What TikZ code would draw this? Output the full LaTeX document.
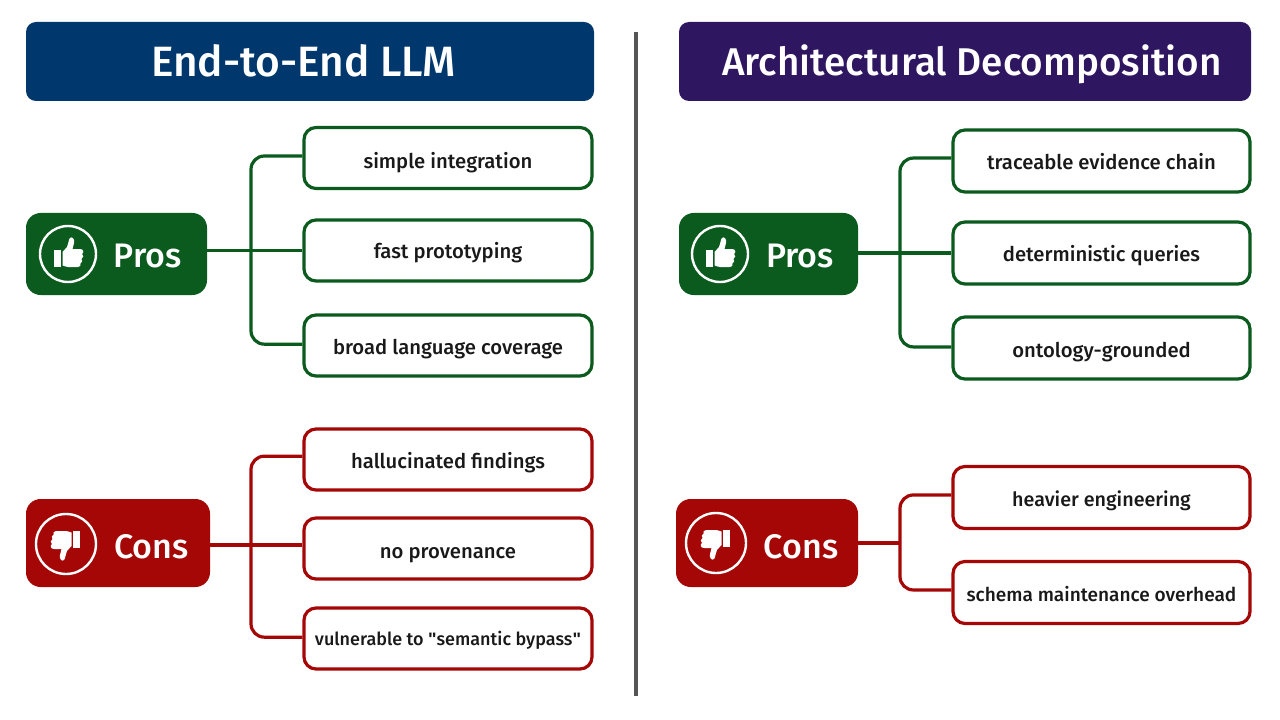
\documentclass[tikz,border=0pt]{standalone}
\usepackage{fontspec}
\setmainfont{Fira Sans}[BoldFont={Fira Sans Medium}]
\newfontfamily\quotefont{Liberation Sans}
\definecolor{titleblue}{HTML}{00386E}
\definecolor{titlepurple}{HTML}{2E1660}
\definecolor{prosgreen}{HTML}{0B5A1E}
\definecolor{consred}{HTML}{A50606}
\definecolor{dividergray}{HTML}{555555}
\tikzset{
	titlebar/.style={rounded corners=7.5pt, inner sep=0pt, minimum height=59.25pt},
	titletext/.style={text=white, text height=23pt, text depth=0pt, inner sep=0pt, font=\fontsize{29}{34}\selectfont\bfseries},
	tagbox/.style={rounded corners=11pt, inner sep=0pt, minimum height=61.5pt},
	tagtext/.style={text=white, text height=20pt, text depth=0pt, inner sep=0pt, font=\fontsize{25.5}{30}\selectfont\bfseries},
	ring/.style={circle, draw=white, line width=1.8pt, inner sep=0pt},
	itembox/.style={draw, fill=white, rounded corners=9pt, line width=2.4pt, inner sep=0pt,
		text=black!90, text height=13.5pt, text depth=0pt, font=\fontsize{15.2}{18}\selectfont\bfseries},
	leftitem/.style={itembox, minimum width=216pt, minimum height=45.75pt},
	rightitem/.style={itembox, minimum width=222.75pt, minimum height=46.5pt},
	link/.style={line width=2.4pt, rounded corners=10pt},
	thumbhand/.pic={
		\fill[white] (-14,-4) rectangle (-7,13);
		\fill[white] (-5.5,-2) -- (-1,-7) .. controls (1,-10) and (0,-14) .. (2,-16)
			.. controls (4,-18) and (7,-15) .. (6,-11) -- (4.5,-5) -- (12,-5)
			.. controls (16,-5) and (16,-1) .. (14,0) .. controls (16,1) and (15.5,4) .. (13.5,5)
			.. controls (15,6) and (14,9) .. (12.5,9.5) .. controls (13.5,11) and (12,13) .. (10,13)
			-- (0,13) .. controls (-2,13) and (-3,12) .. (-5.5,11.5) -- cycle;
	}
}
\begin{document}
\begin{tikzpicture}[x=0.75pt, y=-0.75pt]
	\useasboundingbox (0,0) rectangle (1280,720);

	\draw[dividergray, line width=2.5pt] (636,32) -- (636,696);

	\node[titlebar, fill=titleblue, minimum width=426pt] (titleL) at (310,61.5) {};
	\node[titletext, font=\fontsize{31.8}{36}\selectfont\bfseries] (titleLtext) at (303.5,61.5) {End-to-End LLM};
	\node[titlebar, fill=titlepurple, minimum width=429pt] (titleR) at (965,61.5) {};
	\node[titletext] (titleRtext) at (972,60.5) {Architectural Decomposition};

	\node[tagbox, fill=prosgreen, minimum width=135.75pt] (prosL) at (116.5,254) {};
	\node[ring, minimum size=42pt] (prosLring) at (68,254) {};
	\pic at (prosLring) {thumbhand};
	\node[tagtext] (prosLtext) at (147.5,254) {Pros};
	\node[tagbox, fill=prosgreen, minimum width=134.25pt] (prosR) at (768.5,254) {};
	\node[ring, minimum size=42pt] (prosRring) at (720,254) {};
	\pic at (prosRring) {thumbhand};
	\node[tagtext] (prosRtext) at (800,254.5) {Pros};

	\node[tagbox, fill=consred, minimum width=138pt, minimum height=66pt] (consL) at (118,543) {};
	\node[ring, minimum size=45pt] (consLring) at (66,544) {};
	\pic[xscale=-1, yscale=-1] at (consLring) {thumbhand};
	\node[tagtext] (consLtext) at (151.5,545) {Cons};
	\node[tagbox, fill=consred, minimum width=136.5pt, minimum height=66pt] (consR) at (767,543) {};
	\node[ring, minimum size=45pt] (consRring) at (716,543) {};
	\pic[xscale=-1, yscale=-1] at (consRring) {thumbhand};
	\node[tagtext] (consRtext) at (801,545.5) {Cons};

	\node[leftitem, draw=prosgreen, text height=16.5pt] (la) at (448,158) {simple integration};
	\node[leftitem, draw=prosgreen, text height=12pt] (lb) at (448,250.5) {fast prototyping};
	\node[leftitem, draw=prosgreen] (lc) at (448,345.5) {broad language coverage};
	\node[leftitem, draw=consred] (ld) at (448,459.5) {hallucinated findings};
	\node[leftitem, draw=consred, text height=15pt] (le) at (448,548.5) {no provenance};
	\node[leftitem, draw=consred, text height=10.5pt, font=\fontsize{13.5}{18}\selectfont\bfseries] (lf) at (448,638.5) {vulnerable to {\quotefont"}semantic bypass{\quotefont"}};

	\node[rightitem, draw=prosgreen] (ra) at (1101.5,161) {traceable evidence chain};
	\node[rightitem, draw=prosgreen] (rb) at (1101.5,253) {deterministic queries};
	\node[rightitem, draw=prosgreen] (rc) at (1101.5,348) {ontology-grounded};
	\node[rightitem, draw=consred, font=\fontsize{14.8}{18}\selectfont\bfseries] (rd) at (1101.5,497.5) {heavier engineering};
	\node[rightitem, draw=consred, font=\fontsize{14.3}{18}\selectfont\bfseries] (re) at (1101.5,592.5) {schema maintenance overhead};

	\coordinate (trunkLa) at (251,250);
	\coordinate (trunkLb) at (251,545);
	\coordinate (trunkRa) at (900,253);
	\coordinate (trunkRb) at (900,543);

	\draw[link, prosgreen] ([yshift=1.5pt]la.west) -| (trunkLa) |- ([yshift=1pt]lc.west);
	\draw[link, prosgreen] (prosL.east |- lb.west) -- (lb.west);
	\draw[link, consred] ([yshift=2.5pt]ld.west) -| (trunkLb) |- ([yshift=1pt]lf.west);
	\draw[link, consred] (consL.east |- trunkLb) -- (le.west |- trunkLb);
	\draw[link, prosgreen] ([yshift=2.2pt]ra.west) -| (trunkRa) |- ([yshift=0.8pt]rc.west);
	\draw[link, prosgreen] (prosR.east |- rb.west) -- (rb.west);
	\draw[link, consred] ([yshift=1.9pt]rd.west) -| (trunkRb) |- ([yshift=1.9pt]re.west);
	\draw[link, consred] (consR.east) -- (trunkRb);
\end{tikzpicture}
\end{document}
